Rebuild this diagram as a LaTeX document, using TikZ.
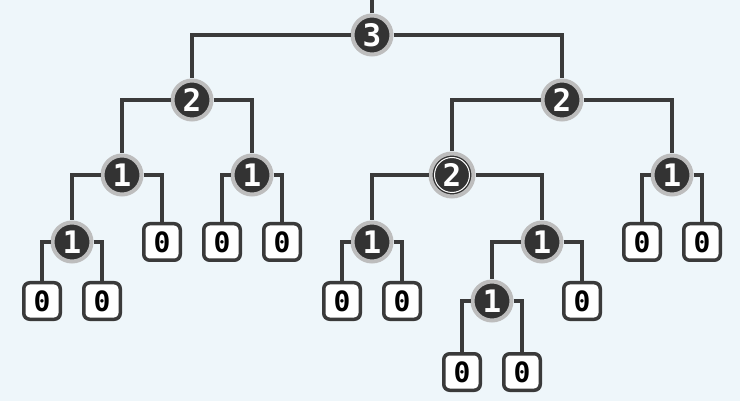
\documentclass[tikz,border=0pt]{standalone}
\usepackage{fontspec}
\setmonofont{DejaVu Sans Mono}
\usetikzlibrary{positioning}
\definecolor{bgcol}{HTML}{EEF6FA}
\definecolor{nodedark}{HTML}{333333}
\definecolor{ringgray}{HTML}{BDBDBD}
\definecolor{linedark}{HTML}{3A3A3A}

\begin{document}
\begin{tikzpicture}[x=1pt, y=-1pt,
    cnt/.style={circle, fill=nodedark, draw=ringgray, line width=4pt,
        minimum size=39pt, inner sep=0pt, text=white,
        font=\ttfamily\bfseries\fontsize{31}{31}\selectfont},
    cntsel/.style={cnt, minimum size=43pt},
    leaf/.style={rectangle, rounded corners=6pt, fill=white, draw=linedark,
        line width=3.5pt, minimum size=36.5pt, inner sep=0pt, text=black,
        font=\ttfamily\bfseries\fontsize{28}{28}\selectfont},
    link/.style={draw=linedark, line width=3.8pt}]
    \fill[bgcol] (0,0) rectangle (740,401);
    \useasboundingbox (0,0) rectangle (740,401);

    % inner nodes
    \node[cnt] (n3) at (372,35) {3};
    \node[cnt] (n2l) at (192,100) {2};
    \node[cnt] (n2r) at (562,100) {2};
    \node[cnt] (n1a) at (122,175) {1};
    \node[cnt] (n1b) at (252,175) {1};
    \node[cntsel] (n2m) at (452,175) {2};
    \node[cnt] (n1c) at (672,175) {1};
    \node[cnt] (n1d) at (72,242) {1};
    \node[cnt] (n1e) at (372,242) {1};
    \node[cnt] (n1f) at (542,242) {1};
    \node[cnt] (n1g) at (492,301) {1};
    \draw[white, line width=1pt] (n2m.center) circle (17.5pt);

    % leaves
    \node[leaf] (z1) at (162,242) {0};
    \node[leaf] (z2) at (222,242) {0};
    \node[leaf] (z3) at (282,242) {0};
    \node[leaf] (z4) at (642,242) {0};
    \node[leaf] (z5) at (702,242) {0};
    \node[leaf] (z6) at (42,301) {0};
    \node[leaf] (z7) at (102,301) {0};
    \node[leaf] (z8) at (342,301) {0};
    \node[leaf] (z9) at (402,301) {0};
    \node[leaf] (z10) at (582,301) {0};
    \node[leaf] (z11) at (462,372) {0};
    \node[leaf] (z12) at (522,372) {0};

    % links
    \coordinate (top) at (372,0);
    \draw[link] (n3) -- (top);
    \foreach \p/\c in {n3/n2l, n3/n2r, n2l/n1a, n2l/n1b, n1a/n1d, n1a/z1,
        n1d/z6, n1d/z7, n1b/z2, n1b/z3, n2r/n2m, n2r/n1c, n2m/n1e, n2m/n1f,
        n1e/z8, n1e/z9, n1f/n1g, n1f/z10, n1g/z11, n1g/z12, n1c/z4, n1c/z5}
        \draw[link] (\p) -| (\c);
\end{tikzpicture}
\end{document}
